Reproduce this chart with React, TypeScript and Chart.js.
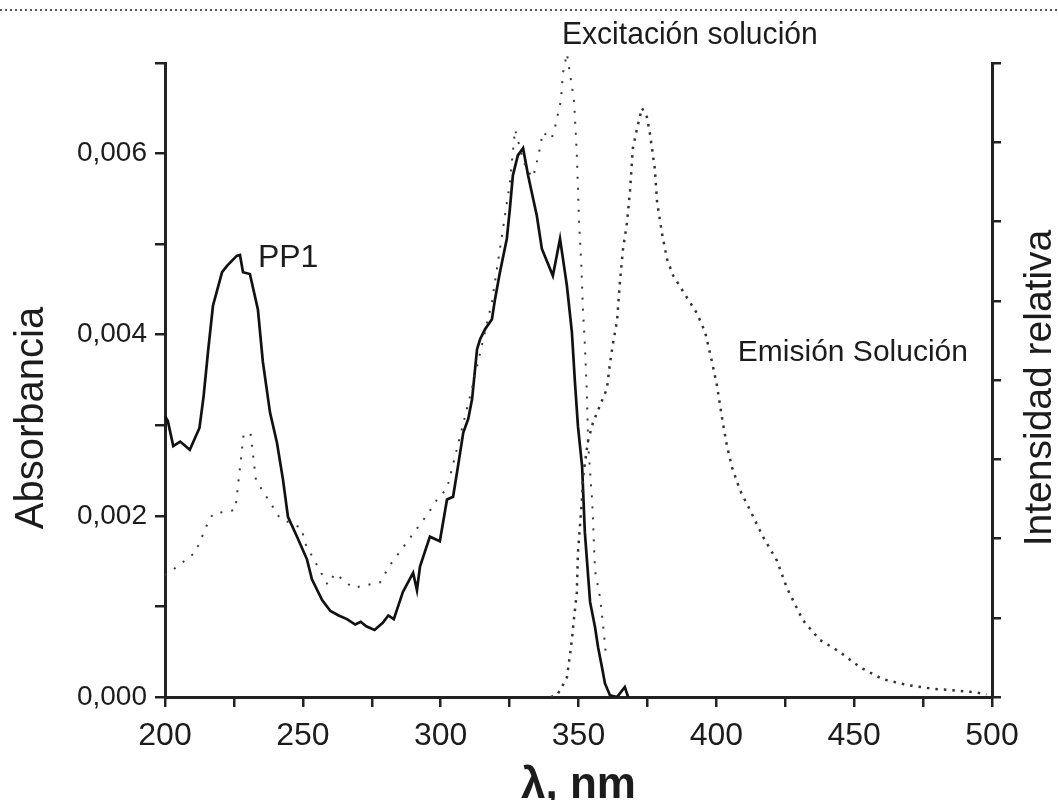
import React, { useEffect, useRef } from 'react';
import { Chart, registerables } from 'chart.js';

Chart.register(...registerables);

// ---- Absorbance (PP1), solid line, left axis ----
const absNm = [200, 201, 203, 205.5, 209, 212.5, 214, 215.6, 217.4, 220.7, 222.5, 226, 227.2, 228.3, 230.8, 233.7, 235.5, 238.1, 240.6, 242.8, 244.6, 247.9, 251.5, 253.3, 257, 260, 263, 266, 269, 271, 273, 276, 279, 281, 283, 286.3, 290, 291.4, 292.5, 296.1, 299.7, 302.3, 304.5, 306.3, 308.2, 310, 311.4, 313.2, 314.3, 316.1, 318.6, 319.7, 321.5, 324, 325.1, 326.2, 328, 329.9, 331.7, 334.9, 336.7, 340.7, 343.3, 345.8, 347.6, 348.7, 349.8, 351.3, 352.3, 354.2, 356, 357.1, 358.5, 359.6, 361.4, 364, 366.8, 368];
const absVal = [0.00310, 0.00305, 0.00277, 0.00282, 0.00273, 0.00297, 0.00332, 0.00381, 0.00432, 0.00469, 0.00476, 0.00487, 0.00488, 0.00469, 0.00467, 0.00428, 0.00370, 0.00314, 0.00281, 0.00240, 0.00199, 0.00177, 0.00152, 0.00130, 0.00107, 0.00095, 0.00090, 0.00086, 0.00080, 0.00083, 0.00078, 0.00074, 0.00082, 0.00090, 0.00086, 0.00116, 0.00137, 0.00118, 0.00144, 0.00177, 0.00172, 0.00218, 0.00221, 0.00255, 0.00292, 0.00307, 0.00329, 0.00384, 0.00395, 0.00406, 0.00417, 0.00439, 0.00469, 0.00506, 0.00539, 0.00576, 0.00598, 0.00606, 0.00576, 0.00531, 0.00495, 0.00465, 0.00506, 0.00454, 0.00403, 0.00348, 0.00299, 0.00255, 0.00182, 0.00105, 0.00077, 0.00055, 0.00033, 0.00015, 0.00002, 0.0, 0.00011, 0.0];

// ---- Excitation (solution), dotted, right axis (relative intensity) ----
const excNm = [200, 203, 211, 215.2, 217.4, 225.5, 228.5, 231, 233, 241.7, 249.7, 250.5, 259, 261.7, 268.2, 278, 281.6, 291.8, 295.4, 298.6, 302.3, 310.6, 318.6, 325.1, 327, 329, 331, 333.5, 335.5, 337.1, 340.2, 341.5, 342.5, 343.6, 344.4, 345.8, 348.4, 349.4, 350.2, 351, 351.6, 352.3, 353, 353.5, 354.2, 355, 356, 357.8, 358.9, 360];
const excVal = [19.2, 20.1, 22.8, 27.1, 28.9, 29.5, 41.3, 41.7, 34.2, 28.2, 26.6, 24.5, 17.7, 19.5, 17.2, 18.1, 20.8, 26.8, 28.9, 31.1, 32.9, 47.3, 62.3, 81.1, 89.5, 86.2, 83.3, 81.9, 85.5, 89.1, 88.0, 89.9, 91.9, 94.0, 98.5, 101.5, 94.0, 85.5, 74.8, 68.4, 61.3, 55.6, 48.4, 39.9, 35.6, 30.6, 19.9, 15.7, 11.4, 6.4];

// ---- Emission (solution), dotted, right axis ----
const emNm = [340, 342.2, 344, 345.8, 346.5, 347.6, 348.3, 349.4, 349.8, 351.3, 351.6, 353.4, 355.2, 357.8, 360.3, 361.4, 362.5, 364, 365, 366.1, 367.6, 368.7, 369.7, 371.2, 373, 374.8, 375.9, 377.7, 378.5, 380.3, 382.1, 384.3, 387.9, 393, 395.9, 398.4, 400.2, 402, 403.8, 405.7, 408.6, 412.2, 417, 422, 425.6, 431.4, 437.6, 444.8, 452.1, 460.4, 469.1, 478.6, 487.3, 494.5, 498];
const emVal = [0, 0.3, 1.6, 3.1, 5.3, 9.0, 12.1, 16.5, 22.8, 31.4, 34.5, 40.3, 43.2, 46.0, 48.6, 52.6, 55.7, 59.4, 65.3, 70.5, 74.9, 79.9, 86.5, 89.6, 92.9, 91.5, 88.9, 83.3, 78.1, 73.1, 69.1, 66.5, 64.0, 60.5, 57.6, 52.9, 49.2, 44.2, 39.7, 36.2, 32.6, 29.5, 25.2, 21.5, 17.2, 12.1, 9.0, 7.1, 4.7, 2.8, 1.9, 1.3, 1.0, 0.7, 0.4];

// ---- Axes ----
const xMin = 200;
const xMax = 500;
const xStep = 25;
const xLabelEvery = 50;
const yLeftMax = 0.007;
const yLeftStep = 0.001;
const yRightMax = 100;
const yRightStep = 12.5;

const xTitle = 'λ, nm';
const yLeftTitle = 'Absorbancia';
const yRightTitle = 'Intensidad relativa';
const labelPP1 = 'PP1';
const labelExc = 'Excitación solución';
const labelEm = 'Emisión Solución';

const FONT = "'Liberation Sans', Arial, sans-serif";
const INK = '#1c1c1c';

function pts(xs: number[], ys: number[]) {
  return xs.map((x, i) => ({ x, y: ys[i] }));
}

export default function App() {
  const ref = useRef<HTMLCanvasElement>(null);

  useEffect(() => {
    const canvas = ref.current!;

    const drawText = (
      ctx: CanvasRenderingContext2D,
      text: string,
      x: number,
      y: number,
      font: string,
      align: CanvasTextAlign,
      baseline: CanvasTextBaseline,
      rot = 0,
      sx = 1,
      sy = 1
    ) => {
      ctx.save();
      ctx.translate(x, y);
      if (rot) ctx.rotate(rot);
      ctx.scale(sx, sy);
      ctx.font = font;
      ctx.fillStyle = INK;
      ctx.textAlign = align;
      ctx.textBaseline = baseline;
      ctx.fillText(text, 0, 0);
      ctx.restore();
    };

    const annot = {
      id: 'annot',
      beforeDraw(chart: any) {
        const ctx = chart.ctx as CanvasRenderingContext2D;
        ctx.save();
        ctx.fillStyle = '#fff';
        ctx.fillRect(0, 0, chart.width, chart.height);
        ctx.strokeStyle = '#555';
        ctx.lineWidth = 2;
        ctx.setLineDash([2, 3]);
        ctx.beginPath();
        ctx.moveTo(0, 10);
        ctx.lineTo(chart.width, 10);
        ctx.stroke();
        ctx.restore();
      },
      afterDraw(chart: any) {
        const ctx = chart.ctx as CanvasRenderingContext2D;
        const xs = chart.scales.x;
        const yl = chart.scales.y;
        const yr = chart.scales.y2;
        const ca = chart.chartArea;
        drawText(ctx, labelPP1, xs.getPixelForValue(233.7), yl.getPixelForValue(0.00475), `32px ${FONT}`, 'left', 'alphabetic');
        drawText(ctx, labelEm, xs.getPixelForValue(407.8), yr.getPixelForValue(54.3), `30px ${FONT}`, 'left', 'middle');
        drawText(ctx, labelExc, xs.getPixelForValue(390.4), ca.top - 28, `32px ${FONT}`, 'center', 'middle', 0, 0.94, 1);
        drawText(ctx, yLeftTitle, 32, 418, `40px ${FONT}`, 'center', 'middle', -Math.PI / 2);
        drawText(ctx, yRightTitle, 1040, 388, `39px ${FONT}`, 'center', 'middle', -Math.PI / 2);
        drawText(ctx, xTitle, (ca.left + ca.right) / 2, 798, `bold 44px ${FONT}`, 'center', 'alphabetic');
      },
    };

    const chart = new Chart(canvas, {
      type: 'line',
      data: {
        datasets: [
          {
            label: 'Emisión',
            data: pts(emNm, emVal),
            yAxisID: 'y2',
            borderColor: '#333',
            borderWidth: 2.5,
            borderDash: [2.5, 6],
            pointRadius: 0,
            tension: 0,
          },
          {
            label: 'Excitación',
            data: pts(excNm, excVal),
            yAxisID: 'y2',
            borderColor: '#3a3a3a',
            borderWidth: 2,
            borderDash: [2, 9],
            pointRadius: 0,
            tension: 0,
            clip: false,
          },
          {
            label: 'PP1',
            data: pts(absNm, absVal),
            yAxisID: 'y',
            borderColor: '#111',
            borderWidth: 2.7,
            pointRadius: 0,
            tension: 0,
          },
        ],
      },
      options: {
        responsive: false,
        animation: false,
        events: [],
        layout: { padding: { top: 63, left: 0, right: 0, bottom: 0 } },
        plugins: { legend: { display: false }, tooltip: { enabled: false } },
        scales: {
          x: {
            type: 'linear',
            min: xMin,
            max: xMax,
            afterFit(s: any) { s.height = 103; },
            border: { display: true, color: '#222', width: 3 },
            grid: { drawOnChartArea: false, drawTicks: true, tickLength: 10, color: '#222', lineWidth: 2.5 },
            ticks: {
              stepSize: xStep,
              autoSkip: false,
              maxRotation: 0,
              padding: 10,
              color: INK,
              font: { family: FONT, size: 32 },
              callback: (v: any) => (Number(v) % xLabelEvery === 0 ? String(v) : ''),
            },
          },
          y: {
            type: 'linear',
            position: 'left',
            min: 0,
            max: yLeftMax,
            afterFit(s: any) { s.width = 165; },
            border: { display: true, color: '#222', width: 3 },
            grid: { drawOnChartArea: false, drawTicks: true, tickLength: 10, color: '#222', lineWidth: 2.5 },
            ticks: {
              stepSize: yLeftStep,
              autoSkip: false,
              padding: 8,
              color: INK,
              font: { family: FONT, size: 28 },
              callback: (v: any) => {
                const k = Math.round(Number(v) * 1000);
                return k % 2 === 0 ? (k / 1000).toFixed(3).replace('.', ',') : '';
              },
            },
          },
          y2: {
            type: 'linear',
            position: 'right',
            min: 0,
            max: yRightMax,
            afterFit(s: any) { s.width = 66; },
            border: { display: true, color: '#222', width: 3 },
            grid: { drawOnChartArea: false, drawTicks: true, tickLength: 9, color: '#222', lineWidth: 2.5 },
            ticks: {
              stepSize: yRightStep,
              autoSkip: false,
              padding: 0,
              callback: () => '',
            },
          },
        },
      },
      plugins: [annot],
    } as any);

    return () => chart.destroy();
  }, []);

  return (
    <div style={{ position: 'fixed', left: 0, top: 0, width: 1058, height: 800, background: '#fff' }}>
      <canvas ref={ref} width={1058} height={800} style={{ display: 'block', width: 1058, height: 800 }} />
    </div>
  );
}
